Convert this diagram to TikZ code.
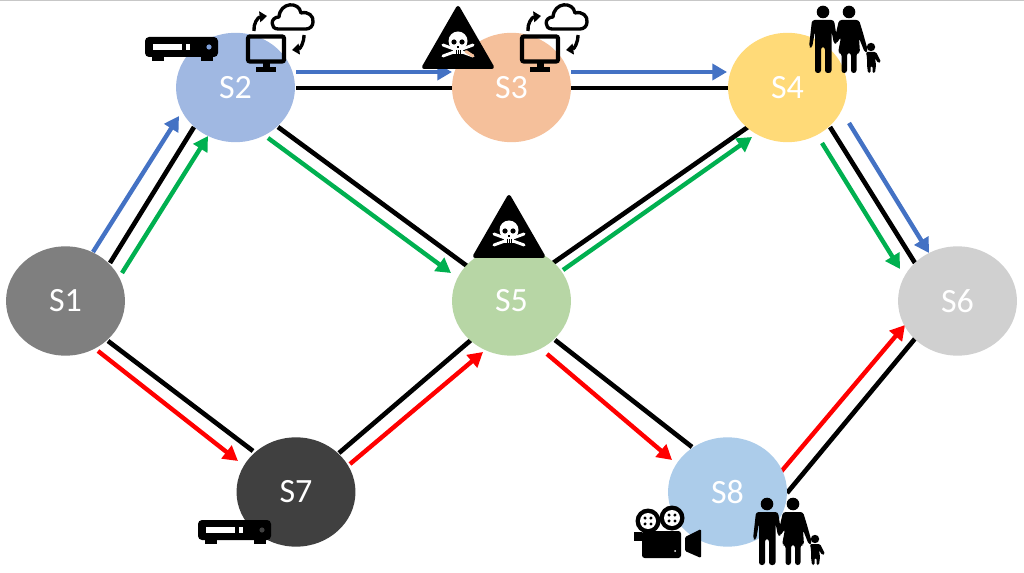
\documentclass[tikz,border=0pt]{standalone}
\usepackage{fontspec}
\setmainfont{Carlito}
\usetikzlibrary{shapes.geometric,arrows.meta,calc}
\definecolor{cblue}{HTML}{4472C4}
\definecolor{cgreen}{HTML}{00B050}
\definecolor{stbdot}{HTML}{7FA0DA}
\definecolor{bonetint}{HTML}{F5C09B}
\tikzset{
 x=0.75pt,y=-0.75pt,
 sw/.style={shape=ellipse,minimum width=89.2pt,minimum height=82pt,inner sep=0pt,text=white,font=\fontsize{25.5}{28}\selectfont},
 blk/.style={line width=3.5pt,black},
 arr/.style={line width=3.3pt,-{Triangle[length=11pt,width=12pt]}},
 Bl/.style={arr,draw=cblue},Gr/.style={arr,draw=cgreen},Rd/.style={arr,draw=red},
 stb/.pic={
  \fill[rounded corners=3] (-37,-10) rectangle (36,10);
  \fill (-30,9) rectangle (-18,14); \fill (19,9) rectangle (31,14);
  \fill[white] (-29,-3) rectangle (0,3); \fill[white] (4,-3) rectangle (8,3);
  \fill[stbdot] (27,0) circle (2.6);
 },
 moncloud/.pic={
  \draw[line width=3.2pt,rounded corners=1.5] (-18,-15.5) rectangle (18,9.5);
  \fill (-3.5,10) rectangle (3.5,17); \fill (-10,15.5) rectangle (10,20);
  \draw[line width=2.5pt,line join=round] (12,-23) .. controls (4,-23) and (4,-35) .. (13,-35) .. controls (14,-50) and (33,-51) .. (35,-39) .. controls (42,-41) and (48,-36) .. (47,-30) .. controls (47,-26) and (44,-23) .. (40,-23) -- cycle;
  \draw[line width=2.5pt,-{Triangle[length=5.5pt,width=8pt]}] (-12,-21) .. controls (-13,-28) and (-8,-35) .. (1,-36);
  \draw[line width=2.5pt,-{Triangle[length=5.5pt,width=8pt]}] (38,-17) .. controls (38,-9) and (34,-3) .. (26,-2);
 },
 skullbones/.pic={
  \fill[line join=round,line width=3pt,draw=black] (0,-31) -- (-34,28) -- (34,28) -- cycle;
  \draw[white,line width=2.2pt,line cap=round] (-15,6) -- (15,17);
  \draw[white,line width=2.2pt,line cap=round] (15,6) -- (-15,17);
  \fill[white] (0,2) ellipse (9.5 and 9.5);
  \fill[white] (-5,6) rectangle (5,15);
  \fill (-4,3) circle (2.6); \fill (4,3) circle (2.6);
  \fill (-0.8,7) rectangle (0.8,9);
  \draw[line width=0.6pt] (-2,11) -- (-2,15) (0,11) -- (0,15) (2,11) -- (2,15);
 },
 family/.pic={
  \fill (-22,-31) circle (6.3);
  \fill[rounded corners=2] (-33,-23) -- (-11,-23) -- (-8,-4) -- (-8,0) -- (-11,1) -- (-13.5,-12) -- (-13.5,30) -- (-20,30) -- (-20,4) -- (-24,4) -- (-24,30) -- (-30,30) -- (-30,-12) -- (-33,5) -- (-36,4) -- cycle;
  \fill (4,-31) circle (6.3);
  \fill[rounded corners=2] (-6,-23) -- (14,-23) -- (18,-10) -- (23,8) -- (20,10) -- (14,-5) -- (15,10) -- (11.5,10) -- (11.5,30) -- (6,30) -- (6,10) -- (2,10) -- (2,30) -- (-3.5,30) -- (-3.5,10) -- (-7,10) -- (-4,-6) -- (-9,1) -- (-11,-1) -- cycle;
  \fill (26,4) circle (4.2);
  \fill[rounded corners=1] (21,9) -- (31,9) -- (36,19) -- (33,20) -- (30,15) -- (31,22) -- (30,30) -- (27.5,30) -- (27.5,23) -- (25.5,23) -- (25.5,30) -- (23,30) -- (22,22) -- (22,15) -- cycle;
 },
 camera/.pic={
  \fill (-20,-9) circle (12.5); \fill (4,-12) circle (12.5);
  \fill[white] (-20,-9) circle (8); \fill[white] (4,-12) circle (8);
  \foreach \a in {0,90,180,270}{\fill ($(-20,-9)+(\a+45:4.2)$) circle (1.7); \fill ($(4,-12)+(\a+45:4.2)$) circle (1.7);}
  \fill[rounded corners=2] (-26,1) rectangle (13,28);
  \fill (-34,2) rectangle (-26,11);
  \fill[rounded corners=1] (17,7) -- (33,-1) -- (33,28) -- (17,21) -- cycle;
  \fill[white] (7,21) circle (1);
 }
}
\begin{document}
\begin{tikzpicture}
\useasboundingbox (0,0) rectangle (1024,573);
\fill[white] (0,0) rectangle (1024,573);
\fill[black!22] (0,0) rectangle (1024,1.2);
\coordinate (a1) at (110,263); \coordinate (a2) at (194,127);
\coordinate (b1) at (93,252); \coordinate (b2) at (179,116);
\coordinate (c1) at (122,273); \coordinate (c2) at (208,136);
\coordinate (d1) at (296,88); \coordinate (d2) at (452,88);
\coordinate (e1) at (296,72); \coordinate (e2) at (452,72);
\coordinate (f1) at (571,88); \coordinate (f2) at (728,88);
\coordinate (g1) at (571,72); \coordinate (g2) at (727,72);
\coordinate (h1) at (278,127); \coordinate (h2) at (467,266);
\coordinate (i1) at (268,138); \coordinate (i2) at (451,273);
\coordinate (j1) at (553,263); \coordinate (j2) at (748,127);
\coordinate (k1) at (563,270); \coordinate (k2) at (752,137);
\coordinate (l1) at (830,127); \coordinate (l2) at (915,263);
\coordinate (m1) at (849,123); \coordinate (m2) at (929,253);
\coordinate (n1) at (822,143); \coordinate (n2) at (900,269);
\coordinate (o1) at (108,341); \coordinate (o2) at (253,451);
\coordinate (p1) at (98,351); \coordinate (p2) at (238,461);
\coordinate (q1) at (339,453); \coordinate (q2) at (471,340);
\coordinate (r1) at (350,464); \coordinate (r2) at (483,352);
\coordinate (s1) at (555,340); \coordinate (s2) at (692,447);
\coordinate (t1) at (547,354); \coordinate (t2) at (672,460);
\coordinate (u1) at (780,473); \coordinate (u2) at (905,325);
\coordinate (v1) at (787,493); \coordinate (v2) at (918,335);
\foreach \p in {a,d,f,h,j,l,o,q,s,v}{\draw[blk] (\p1) -- (\p2);}
\foreach \p in {b,e,g,m}{\draw[Bl] (\p1) -- (\p2);}
\foreach \p in {c,i,k,n}{\draw[Gr] (\p1) -- (\p2);}
\foreach \p in {p,r,t,u}{\draw[Rd] (\p1) -- (\p2);}
\node[sw,fill={rgb,255:red,127;green,127;blue,127}] (S1) at (65.5,301) {\raisebox{-1pt}{S1}};
\node[sw,fill={rgb,255:red,160;green,184;blue,226}] (S2) at (235.5,87.5) {\raisebox{-1pt}{S2}};
\node[sw,fill={rgb,255:red,245;green,192;blue,155}] (S3) at (511.5,87.5) {\raisebox{-1pt}{S3}};
\node[sw,fill={rgb,255:red,255;green,218;blue,120}] (S4) at (787.5,87.5) {\raisebox{-1pt}{S4}};
\node[sw,fill={rgb,255:red,183;green,214;blue,165}] (S5) at (511.5,301) {\raisebox{-1pt}{S5}};
\node[sw,fill={rgb,255:red,208;green,208;blue,208}] (S6) at (957.5,301) {\raisebox{-1pt}{S6}};
\node[sw,fill={rgb,255:red,64;green,64;blue,64}] (S7) at (296,492) {\raisebox{-1pt}{S7}};
\node[sw,fill={rgb,255:red,172;green,204;blue,234}] (S8) at (727.5,492) {\raisebox{-1pt}{S8}};
\pic at (182,47) {stb};
\colorlet{stbdot}{black!75}
\pic at (235,530) {stb};
\pic at (266,52) {moncloud};
\pic at (540,52) {moncloud};
\pic at (458,39) {skullbones};
\draw[bonetint,line width=2.2pt,line cap=round] (466,51.5) -- (473,56);
\pic at (509,228) {skullbones};
\pic at (845,43) {family};
\pic at (789,535) {family};
\pic at (668,530) {camera};
\end{tikzpicture}
\end{document}
